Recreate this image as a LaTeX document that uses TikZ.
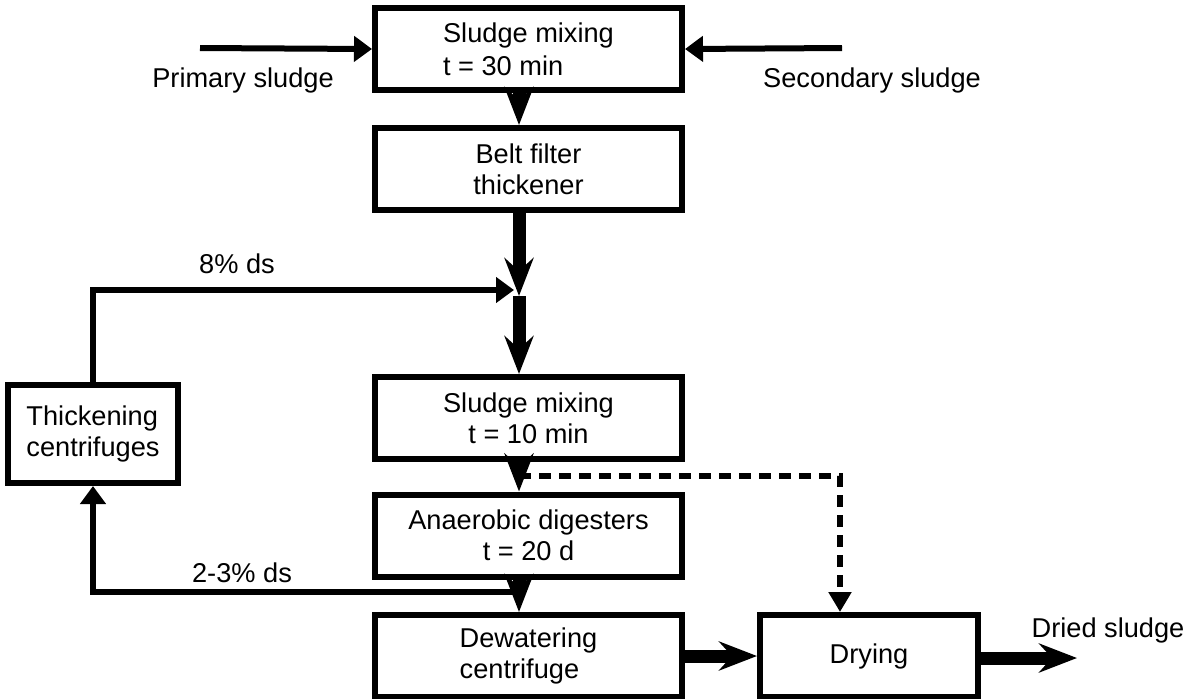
\documentclass[tikz,border=0pt]{standalone}
\usepackage{fontspec}
\setmainfont{Liberation Sans}
\usetikzlibrary{arrows.meta}

\begin{document}
\begin{tikzpicture}[x=0.5pt,y=-0.5pt,
    every node/.style={font=\fontsize{13.6}{15.5}\selectfont},
    box/.style={draw, line width=3pt, minimum width=153.5pt, minimum height=41pt, inner sep=0pt, align=center},
    thin/.style={line width=3pt, -{Triangle[length=9pt,width=12.5pt]}},
    flow/.style={line width=6.5pt, -{Stealth[length=19pt,width=14.5pt,inset=6.5pt]}},
    dashflow/.style={line width=3pt, dash pattern=on 6pt off 4pt, -{Triangle[length=10pt,width=11pt]}}]
            \useasboundingbox (0,0) rectangle (1193,698);
            \node[box, align=left] (M1) at (528.5,49) {Sludge mixing\\[1pt]t = 30 min};
            \node[box] (BF) at (528.5,169) {Belt filter\\thickener};
            \node[box] (M2) at (528.5,418) {Sludge mixing\\t = 10 min};
            \node[box] (AD) at (528.5,535.5) {Anaerobic digesters\\t = 20 d};
            \node[box, align=left] (DW) at (528.5,656) {Dewatering\\centrifuge};
            \node[box, minimum width=109pt] (DR) at (869,656) {Drying};
            \node[box, align=left, minimum width=85pt, minimum height=49pt] (TC) at (93,434) {Thickening\\centrifuges};
            \node (LP) at (243,80) {Primary sludge};
            \node (LS) at (872,80) {Secondary sludge};
            \node (L8) at (237,264) {8\% ds};
            \node (L2) at (242,573) {2-3\% ds};
            \node (LD) at (1108,630) {Dried sludge};
            \coordinate (P) at (200,48);
            \coordinate (S) at (842,48);
            \coordinate (J) at (519,296);
            \coordinate (Jin) at (514,290);
            \coordinate (B1) at (519,476);
            \coordinate (K) at (840,476);
            \coordinate (B2) at (519,592);
            \coordinate (E) at (1077,658);
            \draw [thin] (P) -- (M1.west);
            \draw [thin] (S) -- (M1.east);
            \draw [flow] (M1.south -| J) -- (BF.north -| J);
            \draw [flow] (BF.south -| J) -- (J);
            \draw [thin] (TC.north) |- (Jin);
            \draw [flow] (J) -- (M2.north -| J);
            \draw [flow] (M2.south -| J) -- (AD.north -| J);
            \draw [dashflow] (B1) -- (K) -- (K |- DR.north);
            \draw [flow] (AD.south -| J) -- (DW.north -| J);
            \draw [thin] (B2) -| (TC.south);
            \draw [flow] (DW.east) -- (DR.west);
            \draw [flow] (DR.east |- E) -- (E);
        \end{tikzpicture}
\end{document}
